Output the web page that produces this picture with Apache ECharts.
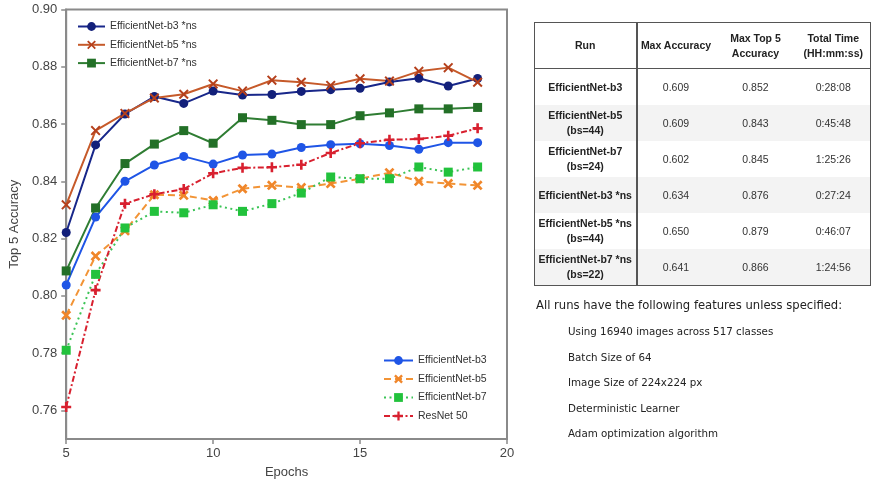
<!DOCTYPE html>
<html>
<head>
<meta charset="utf-8">
<script src="https://cdn.jsdelivr.net/npm/echarts@6/dist/echarts.min.js"></script>
<style>
  html, body { margin: 0; padding: 0; background: #fff; }
  #wrap { position: relative; width: 872px; height: 484px; overflow: hidden; }
  #chart { position: absolute; left: 0; top: 0; width: 872px; height: 484px; }
  #tbl { position: absolute; left: 534px; top: 22px; width: 336px; border-collapse: collapse; table-layout: fixed;
         font-family: "Liberation Sans", Arial, sans-serif; font-size: 10.5px; color: #333;
         border: 1.5px solid #555; }
  #tbl td, #tbl th { text-align: center; vertical-align: middle; padding: 0; line-height: 15px; white-space: nowrap; }
  #tbl th { font-weight: bold; color: #222; height: 45px; border-bottom: 1.5px solid #555; }
  #tbl td { height: 36px; }
  #tbl td.run { font-weight: bold; color: #222; }
  #tbl .c1 { border-right: 2px solid #555; }
  #tbl tr.alt td { background: #f3f3f3; }
  #notes { position: absolute; left: 536px; top: 298px; font-family: "DejaVu Sans", Verdana, sans-serif; color: #222; white-space: nowrap; }
  #notes .head { font-size: 11.6px; height: 27px; }
  #notes .item { font-size: 10.3px; margin-left: 32px; height: 25.6px; }
</style>
</head>
<body>
<div id="wrap">
  <div id="chart"></div>
  <table id="tbl"></table>
  <div id="notes"></div>
</div>
<script>
// ---------- data ----------
const epochs = [5, 6, 7, 8, 9, 10, 11, 12, 13, 14, 15, 16, 17, 18, 19];
const yTicks = [0.76, 0.78, 0.80, 0.82, 0.84, 0.86, 0.88, 0.90];
const xTicks = [5, 10, 15, 20];

const b3ns   = [0.8221, 0.8527, 0.8635, 0.8696, 0.8672, 0.8715, 0.8701, 0.8703, 0.8714, 0.8720, 0.8725, 0.8747, 0.8760, 0.8733, 0.8759];
const b5ns   = [0.8318, 0.8577, 0.8637, 0.8691, 0.8704, 0.8740, 0.8715, 0.8753, 0.8746, 0.8735, 0.8758, 0.8750, 0.8784, 0.8797, 0.8746];
const b7ns   = [0.8087, 0.8307, 0.8462, 0.8530, 0.8577, 0.8533, 0.8622, 0.8613, 0.8598, 0.8598, 0.8629, 0.8639, 0.8653, 0.8653, 0.8658];
const b3     = [0.8038, 0.8275, 0.8400, 0.8457, 0.8487, 0.8460, 0.8492, 0.8495, 0.8518, 0.8528, 0.8531, 0.8525, 0.8512, 0.8535, 0.8535];
const b5     = [0.7932, 0.8139, 0.8227, 0.8353, 0.8351, 0.8333, 0.8374, 0.8386, 0.8378, 0.8392, 0.8409, 0.8430, 0.8400, 0.8392, 0.8386];
const b7     = [0.7810, 0.8075, 0.8237, 0.8295, 0.8290, 0.8318, 0.8295, 0.8322, 0.8359, 0.8415, 0.8409, 0.8409, 0.8450, 0.8432, 0.8450];
const resnet = [0.7612, 0.8020, 0.8322, 0.8355, 0.8373, 0.8428, 0.8447, 0.8449, 0.8458, 0.8499, 0.8533, 0.8545, 0.8548, 0.8559, 0.8585];

const seriesNames = ['EfficientNet-b3 *ns', 'EfficientNet-b5 *ns', 'EfficientNet-b7 *ns',
                     'EfficientNet-b3', 'EfficientNet-b5', 'EfficientNet-b7', 'ResNet 50'];

const tableHeader = ['Run', 'Max Accuracy', 'Max Top 5<br>Accuracy', 'Total Time<br>(HH:mm:ss)'];
const tableRuns   = ['EfficientNet-b3', 'EfficientNet-b5<br>(bs=44)', 'EfficientNet-b7<br>(bs=24)',
                     'EfficientNet-b3 *ns', 'EfficientNet-b5 *ns<br>(bs=44)', 'EfficientNet-b7 *ns<br>(bs=22)'];
const tableMaxAcc = ['0.609', '0.609', '0.602', '0.634', '0.650', '0.641'];
const tableMaxTop5 = ['0.852', '0.843', '0.845', '0.876', '0.879', '0.866'];
const tableTime   = ['0:28:08', '0:45:48', '1:25:26', '0:27:24', '0:46:07', '1:24:56'];

const notesHead = 'All runs have the following features unless specified:';
const notesItems = ['Using 16940 images across 517 classes', 'Batch Size of 64', 'Image Size of 224x224 px',
                    'Deterministic Learner', 'Adam optimization algorithm'];

// ---------- table ----------
(function () {
  const t = document.getElementById('tbl');
  const widths = [102, 78, 82, 74];
  let html = '<colgroup>' + widths.map(w => '<col style="width:' + w + 'px">').join('') + '</colgroup>';
  html += '<tr>' + tableHeader.map((h, i) => '<th class="' + (i === 0 ? 'c1' : '') + '">' + h + '</th>').join('') + '</tr>';
  tableRuns.forEach((r, i) => {
    html += '<tr class="' + (i % 2 === 1 ? 'alt' : '') + '"><td class="run c1">' + r + '</td><td>' + tableMaxAcc[i] +
            '</td><td>' + tableMaxTop5[i] + '</td><td>' + tableTime[i] + '</td></tr>';
  });
  t.innerHTML = html;
  const n = document.getElementById('notes');
  n.innerHTML = '<div class="head">' + notesHead + '</div>' + notesItems.map(s => '<div class="item">' + s + '</div>').join('');
})();

// ---------- chart ----------
function xPath(d) {
  const p = [[0, d], [d, 0], [5, 5 - d], [10 - d, 0], [10, d], [5 + d, 5], [10, 10 - d], [10 - d, 10], [5, 5 + d], [d, 10], [0, 10 - d], [5 - d, 5]];
  return 'path://M' + p.map(q => q[0] + ',' + q[1]).join('L') + 'Z';
}
function plusPath(a) {
  const l = 5 - a, h = 5 + a;
  const p = [[l, 0], [h, 0], [h, l], [10, l], [10, h], [h, h], [h, 10], [l, 10], [l, h], [0, h], [0, l], [l, l]];
  return 'path://M' + p.map(q => q[0] + ',' + q[1]).join('L') + 'Z';
}
const X_THIN = xPath(1.4);
const X_MED = xPath(1.9);
const PLUS = plusPath(1.3);

function mk(name, data, color, lineType, symbol, symbolSize, markerColor) {
  return {
    name: name, type: 'line',
    data: epochs.map((e, i) => [e, data[i]]),
    symbol: symbol, symbolSize: symbolSize, showSymbol: true,
    lineStyle: { color: color, width: 2, type: lineType },
    itemStyle: { color: markerColor || color, borderWidth: 0, opacity: 1 },
    emphasis: { disabled: true },
    animation: false, z: 3
  };
}

const chart = echarts.init(document.getElementById('chart'), null, { renderer: 'canvas' });
const axisTextColor = '#444';
const FONT = '"Liberation Sans", Arial, sans-serif';

chart.setOption({
  animation: false,
  backgroundColor: '#fff',
  textStyle: { fontFamily: FONT },
  grid: { left: 63, right: 365, top: 9.5, bottom: 42, show: true, borderColor: '#8a8a8a', borderWidth: 2, backgroundColor: 'transparent' },
  xAxis: {
    type: 'value', min: 5, max: 20, interval: 5,
    name: 'Epochs', nameLocation: 'middle', nameGap: 27,
    nameTextStyle: { fontSize: 13, color: axisTextColor, fontFamily: FONT },
    axisLine: { show: true, lineStyle: { color: '#8a8a8a', width: 2 } },
    axisTick: { show: true, length: 5, lineStyle: { color: '#8a8a8a', width: 1.5 }, customValues: xTicks },
    axisLabel: { fontSize: 13, color: axisTextColor, margin: 8, fontFamily: FONT, customValues: xTicks },
    splitLine: { show: false }
  },
  yAxis: {
    type: 'value', min: 0.75, max: 0.90,
    name: 'Top 5 Accuracy', nameLocation: 'middle', nameGap: 41, nameRotate: 90,
    nameTextStyle: { fontSize: 13, color: axisTextColor, fontFamily: FONT },
    axisLine: { show: true, lineStyle: { color: '#8a8a8a', width: 2 } },
    axisTick: { show: true, length: 5, lineStyle: { color: '#8a8a8a', width: 1.5 }, customValues: yTicks },
    axisLabel: { fontSize: 13, color: axisTextColor, margin: 9, fontFamily: FONT, customValues: yTicks,
                 formatter: v => v.toFixed(2) },
    splitLine: { show: false }
  },
  legend: [
    {
      data: seriesNames.slice(0, 3), orient: 'vertical', left: 77, top: 21, padding: 0,
      itemWidth: 27, itemHeight: 11, itemGap: 7.3,
      textStyle: { fontSize: 10.5, color: '#333', fontFamily: FONT },
      backgroundColor: 'transparent', selectedMode: false
    },
    {
      data: seriesNames.slice(3), orient: 'vertical', left: 383, top: 355, padding: 0,
      itemWidth: 29, itemHeight: 11, itemGap: 7.5,
      textStyle: { fontSize: 10.5, color: '#333', fontFamily: FONT },
      backgroundColor: 'transparent', selectedMode: false
    }
  ],
  series: [
    mk(seriesNames[3], b3, '#1f55e6', 'solid', 'circle', 9),
    mk(seriesNames[4], b5, '#f29436', [7, 4], X_MED, 10, '#f0862a'),
    mk(seriesNames[5], b7, '#3bc456', [2, 3.5], 'rect', 9, '#22c23c'),
    mk(seriesNames[6], resnet, '#d8202f', [6, 2.5, 2, 2.5], PLUS, 10, '#d8202f'),
    mk(seriesNames[0], b3ns, '#18278a', 'solid', 'circle', 9, '#13207a'),
    mk(seriesNames[1], b5ns, '#c65a2a', 'solid', X_THIN, 10, '#b5401c'),
    mk(seriesNames[2], b7ns, '#2f7d33', 'solid', 'rect', 9, '#237027')
  ]
});
</script>
</body>
</html>
